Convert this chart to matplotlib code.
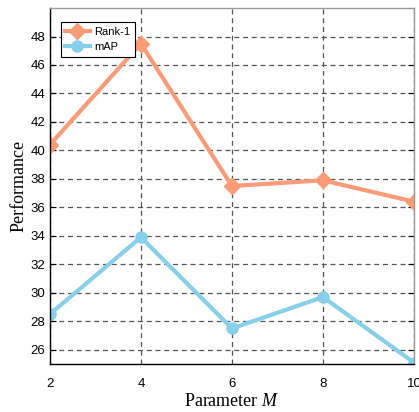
import numpy as np
import matplotlib.pyplot as plt

# parameter M and scores
m_values = [2, 4, 6, 8, 10]
rank1 = [40.4, 47.5, 37.5, 37.9, 36.4]
mAP = [28.5, 33.9, 27.5, 29.7, 25.1]
y_ticks = list(range(26, 50, 2))

plt.rcParams['mathtext.fontset'] = 'custom'
plt.rcParams['mathtext.rm'] = 'Liberation Serif'
plt.rcParams['mathtext.it'] = 'Liberation Serif:italic'

fig = plt.figure(figsize=(4.19, 4.12), dpi=100)
ax = fig.add_axes([0.119, 0.1165, 0.869, 0.864])

ax.plot(m_values, rank1, '-D', color='#FC9B77', lw=3, ms=8, label='Rank-1')
ax.plot(m_values, mAP, '-o', color='#88CFEA', lw=3, ms=8, label='mAP')

ax.set_xlim(2, 10)
ax.set_ylim(25, 50)
ax.set_xticks(m_values)
ax.set_yticks(y_ticks)
ax.grid(True, linestyle=(0, (4, 3)), color='#555555', lw=0.9)

ax.tick_params(axis='both', direction='in', labelsize=9.5, length=4, right=True)
ax.tick_params(axis='x', length=0, pad=10)
for lab in ax.get_xticklabels() + ax.get_yticklabels():
    lab.set_family('Liberation Sans')

ax.spines['left'].set_color('black')
ax.spines['bottom'].set_color('black')
ax.spines['top'].set_color('#999999')
ax.spines['right'].set_color('#999999')
for s in ax.spines.values():
    s.set_linewidth(1.0)

ax.set_ylabel('Performance', family='Liberation Serif', fontsize=13, labelpad=2)
ax.set_xlabel('Parameter $M$', family='Liberation Serif', fontsize=13, labelpad=2)

leg = ax.legend(loc='upper left', prop={'family': 'Liberation Sans', 'size': 8},
                fancybox=False, framealpha=1, edgecolor='black',
                handlelength=2.2, handletextpad=0.4, borderpad=0.4,
                labelspacing=0.5, borderaxespad=0,
                bbox_to_anchor=(0.03, 0.96))
leg.get_frame().set_linewidth(0.8)

fig.savefig('out.png', dpi=100)
